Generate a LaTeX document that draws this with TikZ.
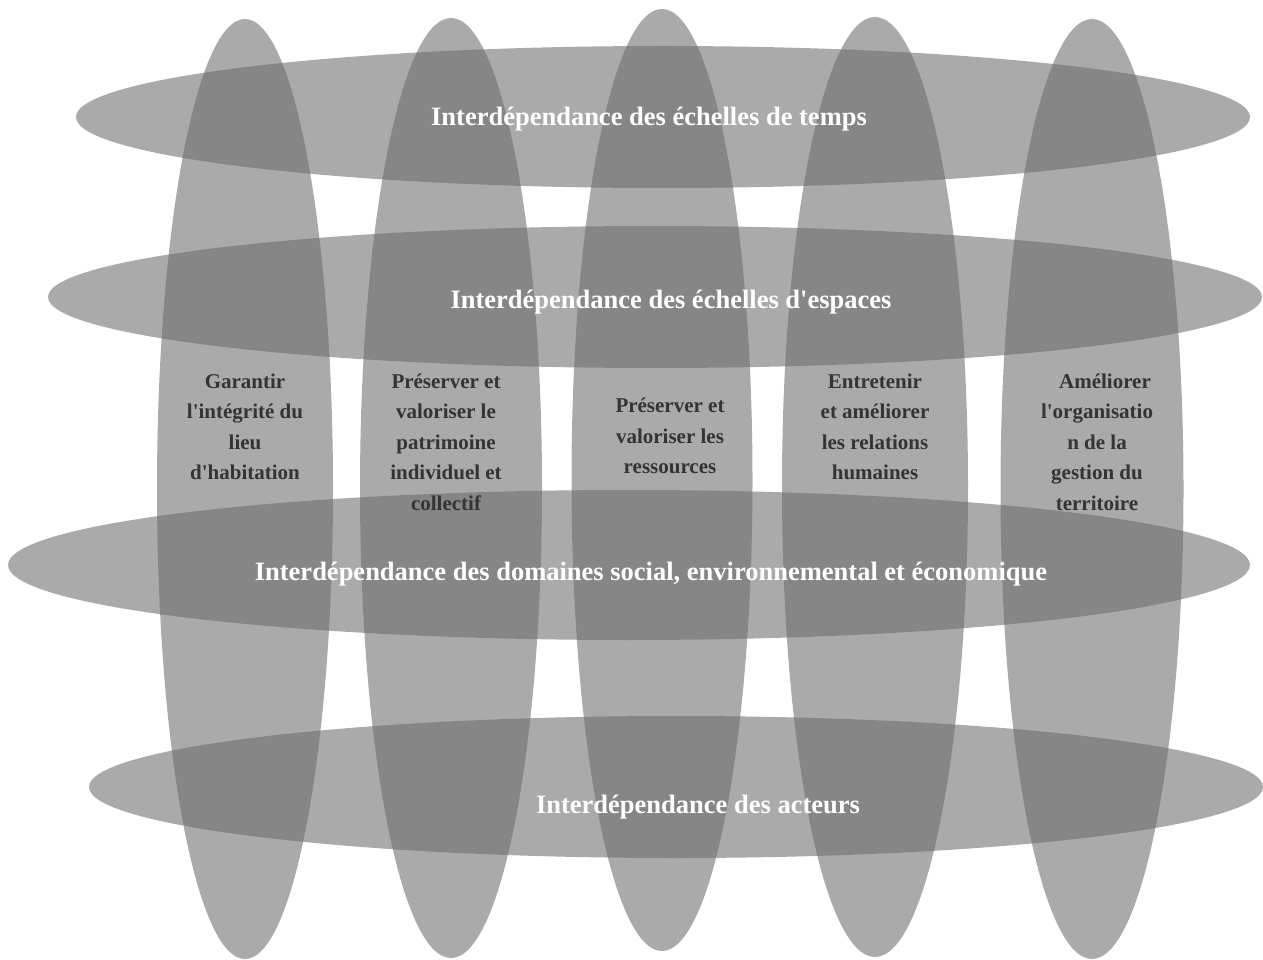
\documentclass[tikz,border=0pt]{standalone}
\usepackage{fontspec}
\setmainfont{Liberation Serif}
\usetikzlibrary{shapes.geometric}
\definecolor{ellgray}{RGB}{110,110,110}
\definecolor{txtdark}{RGB}{52,52,52}
\newcommand{\apo}{\textquotesingle}
\begin{document}
\begin{tikzpicture}[x=1pt,y=-1pt,
  ell/.style={ellipse,draw=none,fill=ellgray,fill opacity=0.59,inner sep=0pt},
  vell/.style={ell,minimum width=#1,minimum height=940},
  hell/.style={ell,minimum width=#1,minimum height=142},
  vtxt/.style={text=txtdark,align=center,font=\fontsize{21}{30.5}\selectfont\bfseries},
  htxt/.style={text=white,font=\fontsize{26.5}{30}\selectfont\bfseries}]
\useasboundingbox (0,0) rectangle (1263,960);
% vertical ellipses
\node[vell=176] (v1) at (245,489) {};
\node[vell=182] (v2) at (451,488) {};
\node[vell=181,minimum height=942] (v3) at (662,480) {};
\node[vell=186] (v4) at (875,487) {};
\node[vell=183] (v5) at (1092,489) {};
% horizontal ellipses
\node[hell=1174] (h1) at (663,117) {};
\node[hell=1214] (h2) at (655,297) {};
\node[hell=1242,minimum height=150] (h3) at (629,565) {};
\node[hell=1174] (h4) at (676,787) {};
% horizontal labels
\node[htxt] (t1) at (649,119) {Interdépendance des échelles de temps};
\node[htxt] (t2) at (671,302) {Interdépendance des échelles d\apo espaces};
\node[htxt] (t3) at (651,574) {Interdépendance des domaines social, environnemental et économique};
\node[htxt] (t4) at (698,807) {Interdépendance des acteurs};
% vertical labels
\node[vtxt] (l1) at (245,427) {Garantir\\l\apo intégrité du\\lieu\\d\apo habitation};
\node[vtxt] (l2) at (446,442) {Préserver et\\valoriser le\\patrimoine\\individuel et\\collectif};
\node[vtxt] (l3) at (670,436) {Préserver et\\valoriser les\\ressources};
\node[vtxt] (l4) at (875,427) {Entretenir\\et améliorer\\les relations\\humaines};
\node[vtxt] (l5) at (1097,442) {\hspace*{16pt}Améliorer\\l\apo organisatio\\n de la\\gestion du\\territoire};
\end{tikzpicture}
\end{document}
